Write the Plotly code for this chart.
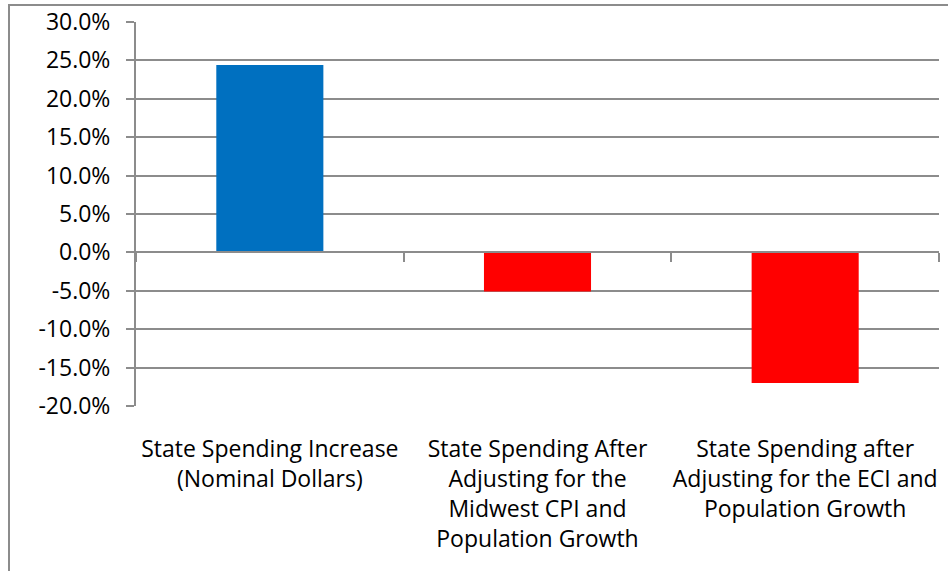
import plotly.graph_objects as go

categories = [
    "State Spending Increase<br>(Nominal Dollars)",
    "State Spending After<br>Adjusting for the<br>Midwest CPI and<br>Population Growth",
    "State Spending after<br>Adjusting for the ECI and<br>Population Growth",
]
values = [0.244, -0.051, -0.170]
bar_colors = ["#0070C0", "#FF0000", "#FF0000"]
y_ticks = [-0.20, -0.15, -0.10, -0.05, 0.0, 0.05, 0.10, 0.15, 0.20, 0.25, 0.30]
y_ticktext = [f"{v * 100:.1f}%" for v in y_ticks]

GRAY = "#8c8c8c"
FONT = "Open Sans"

W, H = 948, 571
L, R, T, B = 136, 9, 22, 165
pw, ph = W - L - R, H - T - B

fig = go.Figure()
fig.add_trace(go.Bar(
    x=categories, y=values, marker_color=bar_colors, marker_line_width=0,
    width=0.4, xaxis="x", yaxis="y", hoverinfo="skip", showlegend=False,
))
# invisible copy to drive the zero-crossing category axis
fig.add_trace(go.Bar(
    x=categories, y=values, opacity=0, width=0.4, xaxis="x2", yaxis="y",
    hoverinfo="skip", showlegend=False,
))

fig.update_layout(
    width=W, height=H,
    margin=dict(l=L, r=R, t=T, b=B, autoexpand=False),
    paper_bgcolor="white", plot_bgcolor="white",
    font=dict(family=FONT, size=23, color="#000000"),
    xaxis=dict(
        type="category", categoryarray=categories, range=[-0.5, 2.5],
        showgrid=False, showline=False, zeroline=False, ticks="",
        tickfont=dict(family=FONT, size=23, color="#000000"),
        ticklabelstandoff=27,
    ),
    xaxis2=dict(
        type="category", categoryarray=categories, range=[-0.5, 2.5],
        overlaying="x", anchor="free", position=0.4, side="bottom",
        showline=True, linecolor=GRAY, linewidth=2,
        ticks="outside", tickson="boundaries", ticklen=9, tickwidth=2, tickcolor=GRAY,
        showticklabels=False, showgrid=False, zeroline=False,
    ),
    yaxis=dict(
        range=[-0.20, 0.30], tickvals=y_ticks, ticktext=y_ticktext,
        showgrid=True, gridcolor=GRAY, gridwidth=1.5,
        showline=True, linecolor=GRAY, linewidth=2,
        ticks="outside", ticklen=8, tickwidth=2, tickcolor=GRAY,
        zeroline=False,
        tickfont=dict(family=FONT, size=23, color="#000000"),
        ticklabelstandoff=11,
    ),
    shapes=[dict(
        type="rect", xref="paper", yref="paper",
        x0=(9 - L) / pw, x1=1.2, y0=-0.8, y1=1 + (T - 5) / ph,
        line=dict(color=GRAY, width=2), fillcolor="rgba(0,0,0,0)", layer="below",
    )],
)

fig.write_html(
    "out.html",
    config={"displayModeBar": False},
    post_script="document.body.style.margin='0px';document.body.style.overflow='hidden';",
)
